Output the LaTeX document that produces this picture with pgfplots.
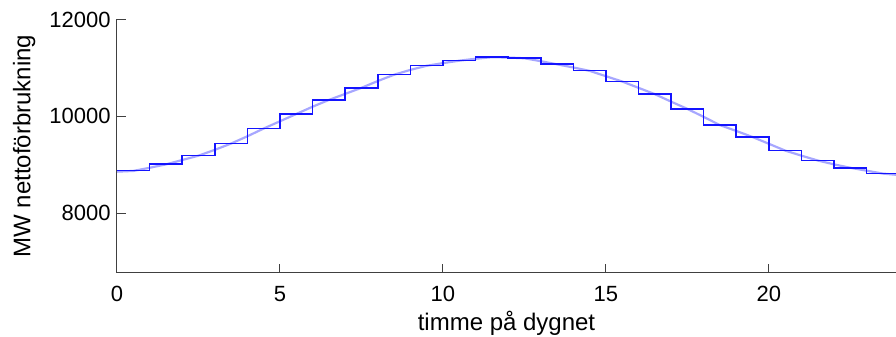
\documentclass[border=0pt]{standalone}
\usepackage{pgfplots}
\pgfplotsset{compat=1.18}
\usepackage{fontspec}
\setmainfont{Liberation Sans}
\definecolor{axgray}{RGB}{64,64,64}
\definecolor{lightblue}{RGB}{130,130,255}
\definecolor{stepblue}{RGB}{20,20,255}
\begin{document}
\begin{tikzpicture}
\useasboundingbox (-58.5pt,-32.15pt) rectangle (389.5pt,136.35pt);
\begin{axis}[
  at={(0,0)}, anchor=south west,
  scale only axis,
  width=389.5pt, height=126.6pt,
  xmin=0, xmax=23.9,
  ymin=6775, ymax=12000,
  axis x line*=bottom, axis y line*=left,
  axis line style={axgray, line width=0.5pt},
  tick style={axgray, line width=0.5pt},
  tick align=inside,
  major tick length=4.5pt,
  xtick={0,5,10,15,20},
  ytick={8000,10000,12000},
  scaled y ticks=false,
  scaled x ticks=false,
  /pgf/number format/assume math mode=true,
  /pgf/number format/1000 sep={},
  ticklabel style={font=\fontsize{11}{13}\selectfont, text=black},
  xticklabel style={anchor=base, yshift=-14.5pt},
  yticklabel style={anchor=east, inner sep=0pt, xshift=-3pt},
  xlabel={timme på dygnet},
  ylabel={MW nettoförbrukning},
  label style={font=\fontsize{12}{14}\selectfont},
  xlabel style={at={([yshift=-28.7pt]axis description cs:0.5,0)}, anchor=base},
  ylabel style={at={([xshift=-46.4pt]axis description cs:0,0.5)}, anchor=center},
]
\addplot[lightblue, line width=1.1pt, opacity=0.7] coordinates {
(0,8860) (0.5,8875) (1,8940) (1.5,9010) (2,9100) (2.5,9190) (3,9310) (3.5,9440)
(4,9590) (4.5,9750) (5,9900) (5.5,10050) (6,10200) (6.5,10340) (7,10465) (7.5,10590)
(8,10730) (8.5,10860) (9,10960) (9.5,11045) (10,11100) (10.5,11150) (11,11190) (11.5,11222)
(12,11215) (12.5,11200) (13,11140) (13.5,11075) (14,11010) (14.5,10940) (15,10830) (15.5,10720)
(16,10590) (16.5,10460) (17,10305) (17.5,10155) (18,9990) (18.5,9820) (19,9700) (19.5,9575)
(20,9435) (20.5,9295) (21,9190) (21.5,9090) (22,9010) (22.5,8940) (23,8880) (23.5,8820) (24,8790)
};
\addplot[stepblue, line width=0.8pt, const plot] coordinates {
(0,8880) (1,9014) (2,9192) (3,9439) (4,9748) (5,10052) (6,10340) (7,10588)
(8,10862) (9,11047) (10,11151) (11,11225) (12,11200) (13,11076) (14,10944) (15,10718)
(16,10458) (17,10155) (18,9819) (19,9577) (20,9295) (21,9089) (22,8938) (23,8821) (24,8821)
};
\end{axis}
\end{tikzpicture}
\end{document}
